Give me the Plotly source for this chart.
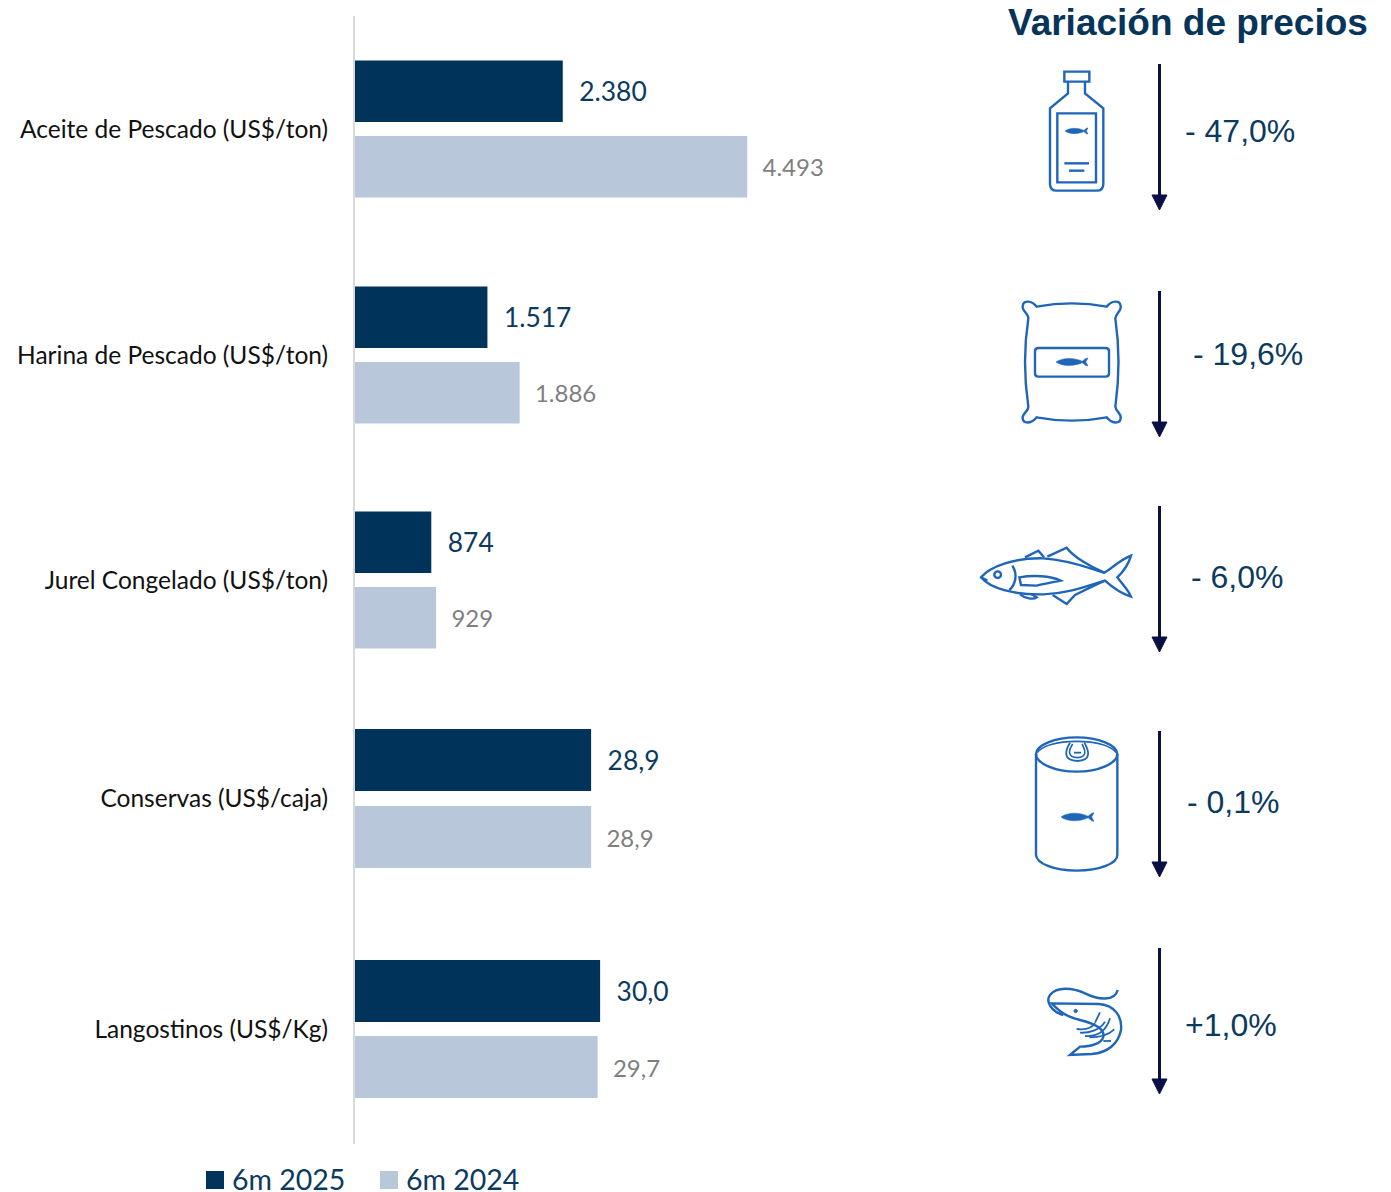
import re
import plotly.graph_objects as go

# ---------- data ----------
categories = ["Aceite de Pescado (US$/ton)", "Harina de Pescado (US$/ton)", "Jurel Congelado (US$/ton)",
              "Conservas (US$/caja)", "Langostinos (US$/Kg)"]
values_2025 = [2380, 1517, 874, 28.9, 30.0]
values_2024 = [4493, 1886, 929, 28.9, 29.7]
labels_2025 = ["2.380", "1.517", "874", "28,9", "30,0"]
labels_2024 = ["4.493", "1.886", "929", "28,9", "29,7"]
series_names = ["6m 2025", "6m 2024"]
price_changes = ["- 47,0%", "- 19,6%", "- 6,0%", "- 0,1%", "+1,0%"]
title_text = "Variación de precios"

# ---------- layout constants ----------
W, H = 1391, 1192
ROW_Y = [129, 355, 580, 798.5, 1029]
BAR_H = [61.5, 61.5, 61.5, 62, 62]
OFF_DARK = [-68.5, -68.5, -68.5, -69.5, -69]
OFF_LIGHT = [7, 7, 7, 7.5, 7]
ARROW_TOP = [64, 291, 506, 731, 948]
LABEL_POS = [(1183, 131), (1191, 354), (1189, 577), (1185, 802), (1183, 1025)]
DARK, LIGHT, TXT, GREY, ICON, ARROW = "#003359", "#b8c7da", "#0b3a5e", "#7f7f7f", "#1f66b8", "#0a1045"
AX_X = 355
TON_SCALE = 0.0873
UNIT_SCALE = 8.17
PAD = "\u00a0\u00a0"


def px(path, ox=0, oy=0, s=1.0):
    """Convert a path written in pixel coordinates (x y pairs) to paper coordinates."""
    nums = iter(range(10 ** 6))
    def rep(m):
        v = float(m.group(0))
        if next(nums) % 2 == 0:
            return f"{(ox + v * s) / W:.5f}"
        return f"{1 - (oy + v * s) / H:.5f}"
    return re.sub(r"-?\d+\.?\d*", rep, path)


shapes = []


def stroke(path, ox=0, oy=0, s=1.0, width=2.4, fill=None, color=ICON):
    shapes.append(dict(type="path", xref="paper", yref="paper", path=px(path, ox, oy, s),
                       line=dict(color=color, width=width),
                       fillcolor=fill if fill else "rgba(0,0,0,0)"))


def minifish(x0, x1, cy, h):
    L = x1 - x0
    s = L / 100
    k = h / s / 2
    p = (f"M 0 {k:.2f} C 20 {-0.15*k:.2f} 55 {-0.15*k:.2f} 82 {0.8*k:.2f} L 93 {0.1*k:.2f} L 100 0 "
         f"L 93 {k:.2f} L 100 {2*k:.2f} L 93 {1.9*k:.2f} L 82 {1.2*k:.2f} "
         f"C 55 {2.15*k:.2f} 20 {2.15*k:.2f} 0 {k:.2f} Z")
    stroke(p, x0, cy - h / 2, s, width=0.5, fill=ICON)


def circle(cx, cy, r):
    c = 0.552 * r
    return (f"M {cx-r} {cy} C {cx-r} {cy-c} {cx-c} {cy-r} {cx} {cy-r} C {cx+c} {cy-r} {cx+r} {cy-c} {cx+r} {cy} "
            f"C {cx+r} {cy+c} {cx+c} {cy+r} {cx} {cy+r} C {cx-c} {cy+r} {cx-r} {cy+c} {cx-r} {cy} Z")


# bottle
o = (1030, 60, 1 / 3)
stroke("M 103 35 L 178 35 L 178 65 L 103 65 Z", *o)
stroke("M 114 65 L 114 100 L 60 145 L 60 372 C 60 385 68 392 80 392 L 200 392 C 212 392 220 385 220 372 "
       "L 220 145 L 165 100 L 165 65", *o)
stroke("M 82 160 L 198 160 L 198 367 L 82 367 Z", *o)
stroke("M 103 310 L 177 310", *o)
stroke("M 117 332 L 163 332", *o)
minifish(1065, 1088, 131, 6)

# sack
o = (1010, 290, 1 / 3)
stroke("M 80 50 Q 185 30 290 50 C 305 30 330 30 332 48 C 335 62 318 70 316 85 Q 335 215 316 350 "
       "C 318 365 335 372 332 385 C 330 402 305 402 290 382 Q 185 402 80 382 C 65 402 40 402 38 385 "
       "C 35 372 55 365 55 350 Q 35 215 55 85 C 55 70 35 62 38 48 C 40 30 65 30 80 50 Z", *o)
stroke("M 85 174 L 287 174 C 293 174 297 178 297 184 L 297 250 C 297 256 293 260 287 260 L 85 260 "
       "C 79 260 75 256 75 250 L 75 184 C 75 178 79 174 85 174 Z", *o)
minifish(1056, 1088, 362, 8)

# fish
o = (970, 535, 1 / 3)
stroke("M 33 127 C 60 95 130 68 220 70 C 300 75 360 100 403 113 C 425 100 450 75 483 62 C 475 90 460 110 442 127 "
       "C 455 145 475 165 483 185 C 450 175 425 155 405 137 C 360 150 300 175 220 178 C 130 180 60 160 33 127 Z", *o)
stroke("M 165 67 L 205 47 L 222 67", *o)
stroke("M 232 65 L 290 38 C 310 65 360 95 403 113", *o)
stroke("M 150 178 C 165 190 190 195 200 187 L 185 178", *o)
stroke("M 248 180 L 290 207 L 315 180 C 345 165 380 148 405 137", *o)
stroke("M 148 127 C 190 120 240 122 272 137 C 250 142 225 145 200 152 L 153 150 Z", *o)
stroke("M 127 92 C 145 120 135 150 118 165", *o)
stroke(circle(83, 119, 10), *o)
stroke("M 33 127 L 52 137", *o)

# can
o = (1020, 730, 1 / 3)
stroke("M 48 72 L 48 375 C 50 400 100 422 170 422 C 240 422 292 400 292 375 L 292 72", *o)
stroke("M 48 72 C 48 45 105 22 170 22 C 235 22 292 45 292 72 C 292 100 235 125 170 125 C 105 125 48 100 48 72 Z", *o)
stroke("M 52 68 C 65 48 110 34 170 34 C 230 34 275 48 288 68", *o, width=1.6)
stroke("M 150 38 C 135 62 128 92 172 93 C 216 92 207 62 193 38", *o, width=1.8)
stroke("M 158 42 C 145 62 142 82 172 83 C 202 82 197 62 186 42", *o, width=1.6)
stroke("M 162 68 L 183 68", *o, width=1.8)
minifish(1061, 1094, 817, 8.5)

# shrimp
o = (1035, 980, 1 / 3)
stroke("M 248 30 C 240 65 190 60 150 40 C 110 22 65 20 45 45 C 30 65 50 95 85 105", *o)
stroke("M 50 70 L 190 72 C 240 75 262 110 258 150 C 250 190 220 218 170 222 L 105 225 L 135 200 "
       "C 170 200 200 190 205 170 C 210 145 175 130 135 120 C 90 110 70 90 50 70 Z", *o)
stroke("M 125 147 C 150 150 170 145 180 130", *o, width=1.8)
stroke("M 135 158 C 160 160 195 150 210 125", *o, width=1.8)
stroke("M 150 168 C 175 170 210 165 225 115", *o, width=1.8)
stroke("M 163 172 C 190 172 220 165 238 148", *o, width=1.8)
stroke("M 180 128 L 195 97", *o, width=1.8)
stroke("M 205 183 L 228 183", *o, width=1.8)
stroke(circle(122, 93, 5), *o, fill=ICON, width=1)

# arrows
for top in ARROW_TOP:
    stroke(f"M 1159.5 {top} L 1159.5 {top + 132}", width=3, color=ARROW)
    stroke(f"M 1152 {top + 131} L 1167 {top + 131} L 1159.5 {top + 146} Z", width=1, fill=ARROW, color=ARROW)

# legend swatches
for x0, col in ((206, DARK), (380, LIGHT)):
    shapes.append(dict(type="rect", xref="paper", yref="paper", x0=x0 / W, x1=(x0 + 18) / W,
                       y0=1 - 1189 / H, y1=1 - 1171 / H, fillcolor=col, line=dict(width=0)))

annotations = [dict(text=f"<b>{title_text}</b>", xref="paper", yref="paper", x=1370 / W, y=1 - 23 / H,
                    xanchor="right", yanchor="middle", showarrow=False,
                    font=dict(family="Liberation Sans", size=37, color="#07355a"))]
for txt, (x, y) in zip(price_changes, LABEL_POS):
    annotations.append(dict(text=txt, xref="paper", yref="paper", x=x / W, y=1 - y / H, xanchor="left",
                            yanchor="middle", showarrow=False,
                            font=dict(family="Liberation Sans", size=32, color=TXT)))
for txt, x in zip(series_names, (232, 406)):
    annotations.append(dict(text=txt, xref="paper", yref="paper", x=x / W, y=1 - 1179 / H, xanchor="left",
                            yanchor="middle", showarrow=False, xshift=-2,
                            font=dict(family="Lato", size=28.5, color=TXT)))

fig = go.Figure()


def add(vals, labels, offsets, color, txtcolor, size, name):
    for idx, axis in (((0, 1, 2), "x"), ((3, 4), "x2")):
        fig.add_trace(go.Bar(
            orientation="h", x=[vals[i] for i in idx], y=[ROW_Y[i] for i in idx],
            width=[BAR_H[i] for i in idx], offset=[offsets[i] for i in idx],
            marker=dict(color=color, line=dict(width=0)),
            text=[PAD + labels[i] for i in idx], textposition="outside", cliponaxis=False,
            textfont=dict(family="Lato", size=size, color=txtcolor), xaxis=axis, yaxis="y",
            name=name, showlegend=False, hoverinfo="x+y"))


add(values_2025, labels_2025, OFF_DARK, DARK, TXT, 26.4, series_names[0])
add(values_2024, labels_2024, OFF_LIGHT, LIGHT, GREY, 24, series_names[1])

dom = [AX_X / W, 1]
fig.update_layout(
    width=W, height=H, margin=dict(l=0, r=0, t=0, b=0), paper_bgcolor="white", plot_bgcolor="white",
    barmode="overlay", showlegend=False, shapes=shapes, annotations=annotations,
    xaxis=dict(domain=dom, range=[0, (W - AX_X) / TON_SCALE], visible=False, fixedrange=True),
    xaxis2=dict(domain=dom, range=[0, (W - AX_X) / UNIT_SCALE], visible=False, overlaying="x", fixedrange=True),
    yaxis=dict(domain=[1 - 1144 / H, 1 - 16 / H], range=[1144, 16], tickmode="array", tickvals=ROW_Y,
               ticktext=categories, ticks="outside", ticklen=20, tickcolor="rgba(0,0,0,0)",
               tickfont=dict(family="Lato", size=24.5, color="#111111"), showline=True, linecolor="#d9d9d9",
               linewidth=2, showgrid=False, zeroline=False, fixedrange=True),
)
fig.write_html("out.html", config=dict(displayModeBar=False),
               post_script="document.body.style.margin='0';document.documentElement.style.overflow='hidden';")
